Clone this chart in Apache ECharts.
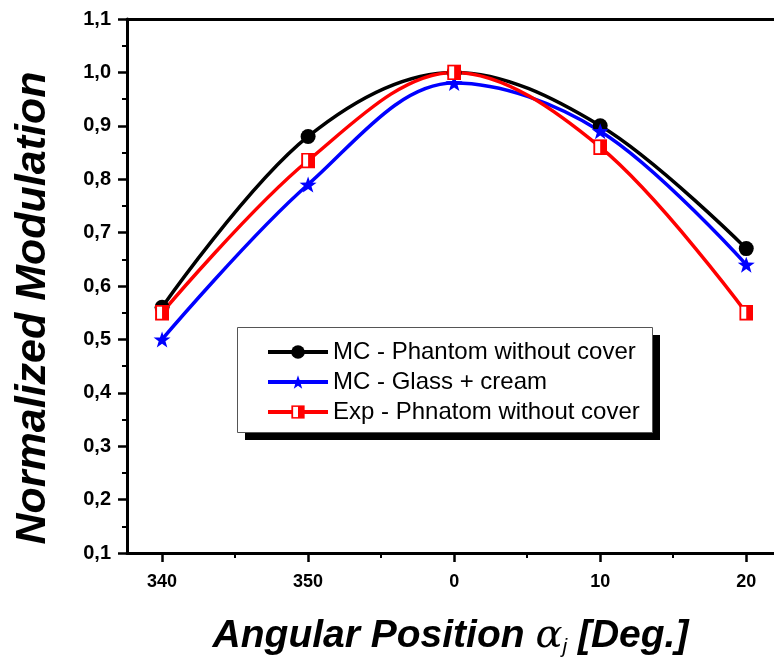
<!DOCTYPE html>
<html>
<head>
<meta charset="utf-8">
<script src="https://cdn.jsdelivr.net/npm/echarts@6/dist/echarts.min.js"></script>
<style>
  html, body { margin: 0; padding: 0; background: #fff; }
  #chart { width: 774px; height: 671px; }
</style>
</head>
<body>
<div id="chart"></div>
<script>
// angular positions, 340 and 350 stored as -20 and -10 so the axis runs through 0
const angles = [-20, -10, 0, 10, 20];
const mcPhantom = [0.56, 0.88, 1.00, 0.90, 0.67];
const mcGlass = [0.50, 0.79, 0.98, 0.89, 0.64];
const expPhantom = [0.55, 0.835, 1.00, 0.86, 0.55];
const xMajorTicks = [-20, -10, 0, 10, 20];
const xMinorTicks = [-15, -5, 5, 15];

const seriesNames = ['MC - Phantom without cover', 'MC - Glass + cream', 'Exp - Phnatom without cover'];

const starPath = 'path://M0,-10 L2.35,-3.24 L9.51,-3.09 L3.8,1.24 L5.88,8.09 L0,4 L-5.88,8.09 L-3.8,1.24 L-9.51,-3.09 L-2.35,-3.24 Z';
const halfSquareSvg = '<svg xmlns="http://www.w3.org/2000/svg" width="14" height="16" viewBox="0 0 14 16">' +
    '<rect x="1" y="1" width="12" height="14" fill="#fff" stroke="#f00" stroke-width="2"/>' +
    '<rect x="7" y="1" width="6" height="14" fill="#f00"/></svg>';
const halfSquare = 'image://data:image/svg+xml;charset=utf-8,' + encodeURIComponent(halfSquareSvg);

function pairs(vals) {
    let arr = [];
    for (let i = 0; i < angles.length; i++) {
        arr.push([angles[i], vals[i]]);
    }
    return arr;
}

function makeSeries(name, vals, color, symbol, size) {
    return {
        name: name,
        type: 'line',
        smooth: 0.35,
        symbol: symbol,
        symbolSize: size,
        showAllSymbol: true,
        lineStyle: { color: color, width: 3.5 },
        itemStyle: { color: color, borderWidth: 0 },
        emphasis: { disabled: true },
        data: pairs(vals)
    };
}

const sans = "'Liberation Sans', Arial, sans-serif";

let myChart = echarts.init(document.getElementById('chart'), null, { renderer: 'canvas' });

let option = {
    backgroundColor: '#fff',
    animation: false,
    grid: { left: 127, top: 19, right: 0, bottom: 118 },
    // legend frame with its hard black drop shadow
    graphic: [
        { type: 'rect', z: 3, shape: { x: 245, y: 335, width: 415, height: 105 }, style: { fill: '#000' } },
        { type: 'rect', z: 3, shape: { x: 237.5, y: 327.5, width: 415, height: 105 }, style: { fill: '#fff', stroke: '#555', lineWidth: 1 } }
    ],
    legend: {
        z: 5,
        orient: 'vertical',
        left: 266,
        top: 340,
        padding: 0,
        itemWidth: 60,
        itemHeight: 17,
        itemGap: 6,
        lineStyle: { width: 4 },
        textStyle: {
            color: '#000',
            fontSize: 24,
            fontFamily: sans,
            lineHeight: 20
        },
        data: seriesNames
    },
    xAxis: [
        {
            type: 'value',
            min: -22.4,
            max: 21.9,
            position: 'bottom',
            name: '{t|Angular Position }{g|α}{s|j}{t| [Deg.]}',
            nameLocation: 'middle',
            nameGap: 62,
            nameTextStyle: {
                rich: {
                    t: { fontSize: 39, fontWeight: 'bold', fontStyle: 'italic', fontFamily: sans, color: '#000' },
                    g: { fontSize: 40, fontStyle: 'italic', fontFamily: "'DejaVu Serif', serif", color: '#000' },
                    s: { fontSize: 21, fontStyle: 'italic', fontFamily: sans, color: '#000', padding: [22, 0, 0, 0] }
                }
            },
            axisLine: { show: true, onZero: false, lineStyle: { color: '#000', width: 3 } },
            axisTick: { show: true, customValues: xMajorTicks, length: 9, lineStyle: { color: '#000', width: 2.5 } },
            axisLabel: {
                customValues: xMajorTicks,
                margin: 20,
                color: '#000',
                fontSize: 18,
                fontWeight: 'bold',
                fontFamily: sans,
                formatter: function (value) {
                    return value < 0 ? String(value + 360) : String(value);
                }
            },
            splitLine: { show: false }
        },
        {
            type: 'value',
            min: -22.4,
            max: 21.9,
            position: 'bottom',
            axisLine: { show: false },
            axisTick: { show: true, customValues: xMinorTicks, length: 5, lineStyle: { color: '#000', width: 2 } },
            axisLabel: { show: false },
            splitLine: { show: false }
        },
        {
            type: 'value',
            min: -22.4,
            max: 21.9,
            position: 'top',
            axisLine: { show: true, onZero: false, lineStyle: { color: '#000', width: 3 } },
            axisTick: { show: false },
            axisLabel: { show: false },
            splitLine: { show: false }
        }
    ],
    yAxis: {
        type: 'value',
        min: 0.1,
        max: 1.1,
        interval: 0.1,
        name: 'Normalized Modulation',
        nameLocation: 'middle',
        nameGap: 72,
        nameTextStyle: {
            color: '#000',
            fontSize: 43,
            fontWeight: 'bold',
            fontStyle: 'italic',
            fontFamily: sans,
            padding: [0, 44, 0, 0]
        },
        axisLine: { show: true, onZero: false, lineStyle: { color: '#000', width: 3 } },
        axisTick: { show: true, length: 9, lineStyle: { color: '#000', width: 2.5 } },
        minorTick: { show: true, splitNumber: 2, length: 5, lineStyle: { color: '#000', width: 2 } },
        axisLabel: {
            margin: 16,
            color: '#000',
            fontSize: 20,
            fontWeight: 'bold',
            fontFamily: sans,
            formatter: function (value) {
                return value.toFixed(1).replace('.', ',');
            }
        },
        splitLine: { show: false },
        minorSplitLine: { show: false }
    },
    series: [
        makeSeries(seriesNames[0], mcPhantom, '#000000', 'circle', 15),
        makeSeries(seriesNames[1], mcGlass, '#0000ff', starPath, [17, 16]),
        makeSeries(seriesNames[2], expPhantom, '#ff0000', halfSquare, [14, 16])
    ]
};

myChart.setOption(option);
</script>
</body>
</html>
